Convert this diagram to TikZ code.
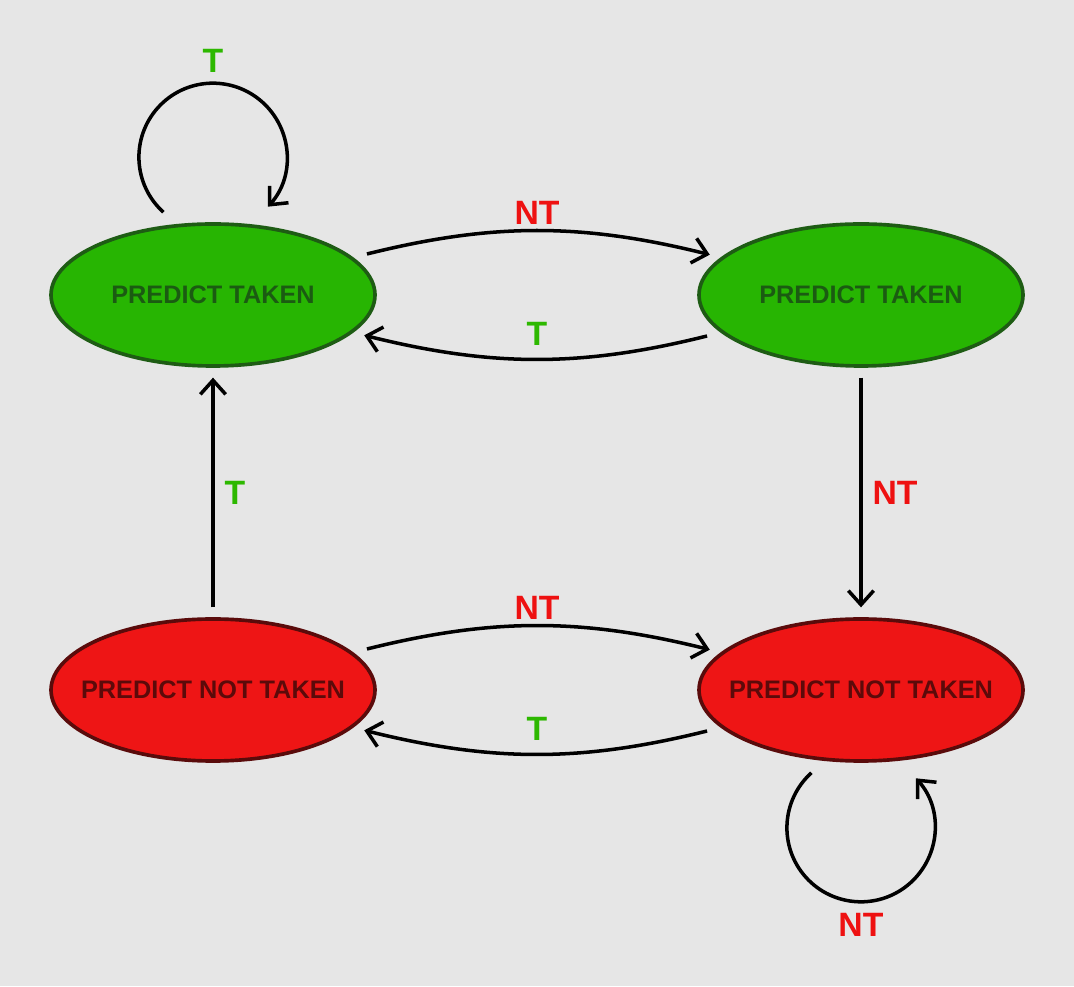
\documentclass[tikz,border=0pt]{standalone}
\usepackage{fontspec}
\setmainfont{Liberation Sans}
\usetikzlibrary{arrows.meta,shapes.geometric}

\definecolor{bggray}{HTML}{E6E6E6}
\definecolor{takengreen}{HTML}{27B502}
\definecolor{takenline}{HTML}{1E5C14}
\definecolor{takentext}{HTML}{1B5B12}
\definecolor{nottakenred}{HTML}{EE1515}
\definecolor{nottakenline}{HTML}{5A0B0B}
\definecolor{nottakentext}{HTML}{5C0A0A}
\definecolor{labelgreen}{HTML}{2DB800}
\definecolor{labelred}{HTML}{EE1111}

\begin{document}
\begin{tikzpicture}[
  state/.style={draw, ellipse, line width=2.6pt, minimum width=8.1cm, minimum height=3.55cm,
    inner xsep=-3cm, inner ysep=0pt, font=\fontsize{18}{21}\selectfont\bfseries},
  taken/.style={state, fill=takengreen, draw=takenline, text=takentext},
  nottaken/.style={state, fill=nottakenred, draw=nottakenline, text=nottakentext},
  trans/.style={-{Straight Barb[length=10pt,width=18pt]}, line width=2.5pt, shorten <=7pt, shorten >=7pt},
  bent/.style={trans, bend left=14, shorten <=10pt, shorten >=8pt},
  lbl/.style={inner sep=0pt, font=\fontsize{24}{28}\selectfont\bfseries},
  tlbl/.style={lbl, text=labelgreen},
  ntlbl/.style={lbl, text=labelred}
]

  % --- Background ---
  \fill[bggray] (0,0) rectangle (26.85,24.65);

  % --- Define nodes ---
  \node[taken] (tl) at (5.325,17.275) {PREDICT TAKEN};
  \node[taken] (tr) at (21.525,17.275) {PREDICT TAKEN};
  \node[nottaken] (bl) at (5.325,7.4) {PREDICT NOT TAKEN};
  \node[nottaken] (br) at (21.525,7.4) {PREDICT NOT TAKEN};

  % --- Top pair ---
  \draw[bent] (tl.15) to node[ntlbl, midway, above=4pt] {NT} (tr.165);
  \draw[bent] (tr.195) to node[tlbl, midway, above=8pt] {T} (tl.-15);

  % --- Bottom pair ---
  \draw[bent] (bl.15) to node[ntlbl, midway, above=4pt] {NT} (br.165);
  \draw[bent] (br.195) to node[tlbl, midway, above=8pt] {T} (bl.-15);

  % --- Vertical transitions ---
  \draw[trans] (bl.north) -- node[tlbl, midway, right=7pt] {T} (tl.south);
  \draw[trans] (tr.south) -- node[ntlbl, midway, right=7pt] {NT} (br.north);

  % --- Self loops ---
  \draw[trans, shorten <=0pt, shorten >=0pt] ([xshift=-1.24cm, yshift=0.25cm]tl.north)
    arc[start angle=228, end angle=-42, radius=1.85cm] node[tlbl, pos=0.511, above=6pt] {T};
  \draw[trans, shorten <=0pt, shorten >=0pt] ([xshift=-1.24cm, yshift=-0.25cm]br.south)
    arc[start angle=132, end angle=402, radius=1.85cm] node[ntlbl, pos=0.511, below=7pt] {NT};

\end{tikzpicture}
\end{document}
